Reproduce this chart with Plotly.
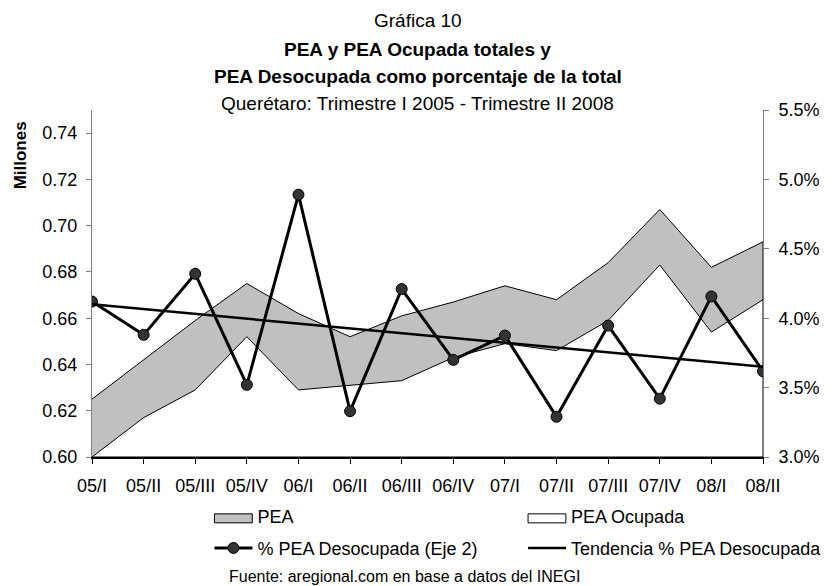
import plotly.graph_objects as go

categories = ["05/I", "05/II", "05/III", "05/IV", "06/I", "06/II", "06/III",
              "06/IV", "07/I", "07/II", "07/III", "07/IV", "08/I", "08/II"]
pea = [0.625, 0.642, 0.659, 0.675, 0.662, 0.652, 0.661,
       0.667, 0.674, 0.668, 0.684, 0.707, 0.682, 0.693]
pea_ocupada = [0.600, 0.617, 0.629, 0.652, 0.629, 0.631, 0.633,
               0.643, 0.649, 0.646, 0.659, 0.683, 0.654, 0.668]
pct_desocupada = [0.0412, 0.0388, 0.0432, 0.0352, 0.0489, 0.0333, 0.0421,
                  0.0370, 0.03875, 0.0329, 0.03947, 0.0342, 0.04157, 0.03618]
trend_categories = ["05/I", "08/II"]
trend_values = [0.0410, 0.0365]

Y1_MIN, Y1_MAX = 0.60, 0.75
Y2_MIN, Y2_MAX = 0.030, 0.055

FONT = "Liberation Sans, Arial, sans-serif"
GRAY = "#C0C0C0"

# layout geometry (pixels)
W, H = 839, 586
PL, PR, PT, PB = 92, 766, 110, 456.7
pw, ph = PR - PL, PB - PT


def px_x(x):
    return (x - PL) / pw


def px_y(y):
    return (PB - y) / ph


fig = go.Figure()

# legend-only entries for the two areas (swatches drawn as boxes below)
for name, leg, grp in [("PEA", "legend", "a"), ("PEA Ocupada", "legend2", "b")]:
    fig.add_trace(go.Scatter(
        x=[None], y=[None], mode="lines", name=name,
        line=dict(color="rgba(0,0,0,0)", width=0),
        legend=leg, legendgroup=grp))

# closed polygons so the area outline also runs down the side edges
fig.add_trace(go.Scatter(
    x=categories + [categories[-1], categories[0]],
    y=pea + [Y1_MIN, Y1_MIN],
    mode="lines", fill="toself", fillcolor=GRAY,
    line=dict(color="black", width=1), name="PEA",
    showlegend=False, hoverinfo="skip"))
fig.add_trace(go.Scatter(
    x=categories + [categories[-1], categories[0]],
    y=pea_ocupada + [Y1_MIN, Y1_MIN],
    mode="lines", fill="toself", fillcolor="white",
    line=dict(color="black", width=1), name="PEA Ocupada",
    showlegend=False, hoverinfo="skip"))
fig.add_trace(go.Scatter(
    x=categories, y=pct_desocupada, yaxis="y2",
    mode="lines+markers", name="% PEA Desocupada (Eje 2)",
    line=dict(color="black", width=3),
    marker=dict(size=11, color="#333333", line=dict(color="black", width=1)),
    legend="legend", legendgroup="c"))
fig.add_trace(go.Scatter(
    x=trend_categories, y=trend_values, yaxis="y2",
    mode="lines", name="Tendencia % PEA Desocupada",
    line=dict(color="black", width=2.5),
    legend="legend2", legendgroup="d"))

title_lines = [
    ("Gráfica 10", False, 21),
    ("PEA y PEA Ocupada totales y", True, 50),
    ("PEA Desocupada como porcentaje de la total", True, 77),
    ("Querétaro: Trimestre I 2005 - Trimestre II 2008", False, 104),
]

annotations = []
for txt, bold, ypix in title_lines:
    annotations.append(dict(
        text=f"<b>{txt}</b>" if bold else txt,
        xref="paper", yref="paper", x=px_x(419), xanchor="center",
        y=px_y(ypix), yanchor="middle", showarrow=False,
        font=dict(family=FONT, size=19, color="black")))
annotations.append(dict(
    text="Fuente: aregional.com en base a datos del INEGI",
    xref="paper", yref="paper", x=px_x(228), xanchor="left",
    y=px_y(576), yanchor="middle", showarrow=False,
    font=dict(family=FONT, size=16, color="black")))
annotations.append(dict(
    text="<b>Millones</b>", textangle=-90,
    xref="paper", yref="paper", x=px_x(20), xanchor="center",
    y=px_y(155), yanchor="middle", showarrow=False,
    font=dict(family=FONT, size=17, color="black")))

LEG1_X, LEG2_X, LEG_TOP = 210, 525, 497
ROW1 = 518
shapes = []
for lx, fc in [(LEG1_X, GRAY), (LEG2_X, "white")]:
    shapes.append(dict(
        type="rect", xref="paper", yref="paper",
        x0=px_x(lx + 5), x1=px_x(lx + 43),
        y0=px_y(ROW1 - 4.5), y1=px_y(ROW1 + 4.5),
        fillcolor=fc, line=dict(color="black", width=1), layer="above"))

fig.update_layout(
    width=W, height=H,
    margin=dict(l=PL, r=W - PR, t=PT, b=H - PB),
    paper_bgcolor="white", plot_bgcolor="white",
    font=dict(family=FONT, size=18, color="black"),
    showlegend=True,
    xaxis=dict(type="category", range=[0, 13], showgrid=False,
               showline=True, linecolor="black", linewidth=1.5,
               ticks="outside", ticklen=5, tickcolor="black",
               ticklabelstandoff=7,
               tickfont=dict(size=18), zeroline=False),
    yaxis=dict(range=[Y1_MIN, Y1_MAX], dtick=0.02, tick0=0.60,
               tickformat=".2f", showgrid=False, zeroline=False,
               showline=True, linecolor="#7f7f7f", linewidth=1,
               ticks="outside", ticklen=5, tickcolor="#7f7f7f",
               ticklabelstandoff=5,
               tickfont=dict(size=18)),
    yaxis2=dict(range=[Y2_MIN, Y2_MAX], dtick=0.005, tick0=0.03,
                tickformat=".1%", overlaying="y", side="right",
                showgrid=False, zeroline=False,
                showline=True, linecolor="#7f7f7f", linewidth=1,
                ticks="outside", ticklen=5, tickcolor="#7f7f7f",
                ticklabelstandoff=6,
                tickfont=dict(size=18)),
    legend=dict(x=px_x(LEG1_X), xanchor="left",
                y=px_y(LEG_TOP), yanchor="top", itemwidth=38,
                orientation="v", traceorder="grouped", tracegroupgap=6,
                bgcolor="rgba(0,0,0,0)", font=dict(size=18)),
    legend2=dict(x=px_x(LEG2_X), xanchor="left",
                 y=px_y(LEG_TOP), yanchor="top", itemwidth=38,
                 orientation="v", traceorder="grouped", tracegroupgap=6,
                 bgcolor="rgba(0,0,0,0)", font=dict(size=18)),
    annotations=annotations,
    shapes=shapes,
)

fig.write_html(
    "out.html",
    config={"displayModeBar": False},
    post_script="document.body.style.margin='0';"
                "document.body.style.overflow='hidden';")
